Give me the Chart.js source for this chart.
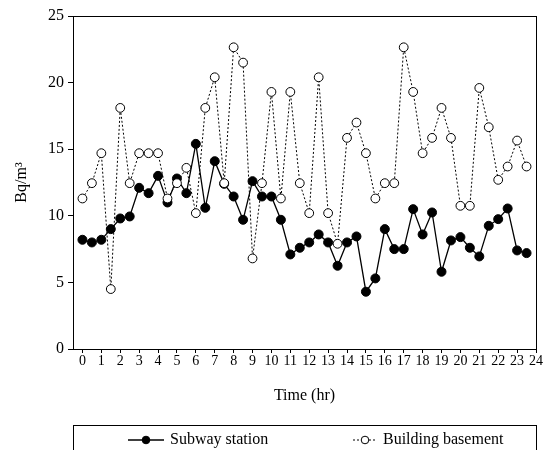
<!DOCTYPE html>
<html>
<head>
<meta charset="utf-8">
<script src="https://cdn.jsdelivr.net/npm/chart.js@4/dist/chart.umd.min.js"></script>
<style>
html, body { margin: 0; padding: 0; background: #fff; }
</style>
</head>
<body>
<canvas id="chart" width="543" height="450"></canvas>
<script>
var hours = [0, 0.5, 1, 1.5, 2, 2.5, 3, 3.5, 4, 4.5, 5, 5.5, 6, 6.5, 7, 7.5,
	8, 8.5, 9, 9.5, 10, 10.5, 11, 11.5, 12, 12.5, 13, 13.5, 14, 14.5, 15, 15.5,
	16, 16.5, 17, 17.5, 18, 18.5, 19, 19.5, 20, 20.5, 21, 21.5, 22, 22.5, 23, 23.5];

var subway = [8.2, 8.0, 8.2, 9.0, 9.8, 9.95, 12.1, 11.7, 13.0, 11.0, 12.8, 11.7, 15.4, 10.6, 14.1, 12.4,
	11.45, 9.7, 12.6, 11.45, 11.45, 9.7, 7.1, 7.6, 8.0, 8.6, 8.0, 6.25, 8.0, 8.45, 4.3, 5.3,
	9.0, 7.5, 7.5, 10.5, 8.6, 10.25, 5.8, 8.15, 8.4, 7.6, 6.95, 9.25, 9.75, 10.55, 7.4, 7.2];

var basement = [11.3, 12.45, 14.7, 4.5, 18.1, 12.45, 14.7, 14.7, 14.7, 11.3, 12.45, 13.6, 10.2, 18.1, 20.4, 12.45,
	22.65, 21.5, 6.8, 12.45, 19.3, 11.3, 19.3, 12.45, 10.2, 20.4, 10.2, 7.9, 15.85, 17.0, 14.7, 11.3,
	12.45, 12.45, 22.65, 19.3, 14.7, 15.85, 18.1, 15.85, 10.75, 10.75, 19.6, 16.65, 12.7, 13.7, 15.65, 13.7];

var xTicks = [0, 1, 2, 3, 4, 5, 6, 7, 8, 9, 10, 11, 12, 13, 14, 15, 16, 17, 18, 19, 20, 21, 22, 23, 24];
var seriesNames = ['Subway station', 'Building basement'];

var serif = "'Liberation Serif', 'Times New Roman', serif";

function points(values) {
	return values.map(function(v, i) { return { x: hours[i], y: v }; });
}

// box round the plot area
var framePlugin = {
	id: 'frame',
	afterDraw: function(chart) {
		var ctx = chart.ctx, a = chart.chartArea;
		ctx.save();
		ctx.strokeStyle = '#000';
		ctx.lineWidth = 1;
		ctx.strokeRect(Math.round(a.left) + 0.5, Math.round(a.top) + 0.5,
			Math.round(a.right - a.left), Math.round(a.bottom - a.top));
		ctx.restore();
	}
};

// legend in a box under the axis title
var boxLegend = {
	id: 'boxLegend',
	afterDraw: function(chart) {
		var ctx = chart.ctx, a = chart.chartArea;
		var rowY = 440;
		var items = [{ idx: 1, x: 128, len: 36 }, { idx: 0, x: 353, len: 24 }];
		ctx.save();
		ctx.strokeStyle = '#000';
		ctx.lineWidth = 1;
		ctx.strokeRect(Math.round(a.left) + 0.5, 425.5, Math.round(a.right - a.left), 40);
		ctx.font = '16px ' + serif;
		ctx.textBaseline = 'middle';
		items.forEach(function(it) {
			var ds = chart.data.datasets[it.idx];
			ctx.beginPath();
			ctx.setLineDash(ds.borderDash || []);
			ctx.lineWidth = ds.borderWidth;
			ctx.moveTo(it.x, rowY);
			ctx.lineTo(it.x + it.len, rowY);
			ctx.stroke();
			ctx.setLineDash([]);
			ctx.beginPath();
			ctx.arc(it.x + it.len / 2, rowY, 3.8, 0, Math.PI * 2);
			ctx.fillStyle = ds.pointBackgroundColor;
			ctx.fill();
			ctx.lineWidth = 1;
			ctx.stroke();
			ctx.fillStyle = '#000';
			ctx.fillText(ds.label, it.x + it.len + 6, rowY);
		});
		ctx.restore();
	}
};

new Chart(document.getElementById('chart').getContext('2d'), {
	type: 'line',
	data: {
		datasets: [{
			label: seriesNames[1],
			data: points(basement),
			order: 0,
			borderColor: '#000',
			borderWidth: 1,
			borderDash: [2, 2],
			pointRadius: 4.4,
			pointBorderWidth: 1,
			pointBackgroundColor: '#fff',
			pointBorderColor: '#000',
			tension: 0
		}, {
			label: seriesNames[0],
			data: points(subway),
			order: 1,
			borderColor: '#000',
			borderWidth: 1.3,
			pointRadius: 4.5,
			pointBorderWidth: 1,
			pointBackgroundColor: '#000',
			pointBorderColor: '#000',
			tension: 0
		}]
	},
	options: {
		responsive: false,
		animation: false,
		layout: { padding: { top: 16, right: 7, bottom: 40, left: 0 } },
		plugins: {
			legend: { display: false },
			tooltip: { enabled: false }
		},
		scales: {
			x: {
				type: 'linear',
				min: -0.5,
				max: 24,
				afterBuildTicks: function(scale) {
					scale.ticks = xTicks.map(function(v) { return { value: v }; });
				},
				afterFit: function(scale) { scale.height = 61; },
				ticks: {
					autoSkip: false,
					maxRotation: 0,
					padding: 0,
					color: '#000',
					font: { family: serif, size: 14 }
				},
				grid: { drawOnChartArea: false, tickLength: 4, tickColor: '#000' },
				border: { color: '#000', width: 1 },
				title: {
					display: true,
					text: 'Time (hr)',
					color: '#000',
					font: { family: serif, size: 16 },
					padding: { top: 0, bottom: 5 }
				}
			},
			y: {
				min: 0,
				max: 25,
				afterFit: function(scale) { scale.width = 73; },
				ticks: {
					stepSize: 5,
					padding: 4,
					color: '#000',
					font: { family: serif, size: 16 }
				},
				grid: { drawOnChartArea: false, tickLength: 5, tickColor: '#000' },
				border: { color: '#000', width: 1 },
				title: {
					display: true,
					text: 'Bq/m³',
					color: '#000',
					font: { family: serif, size: 16 },
					padding: { top: 12, bottom: 0 }
				}
			}
		}
	},
	plugins: [framePlugin, boxLegend]
});
</script>
</body>
</html>
